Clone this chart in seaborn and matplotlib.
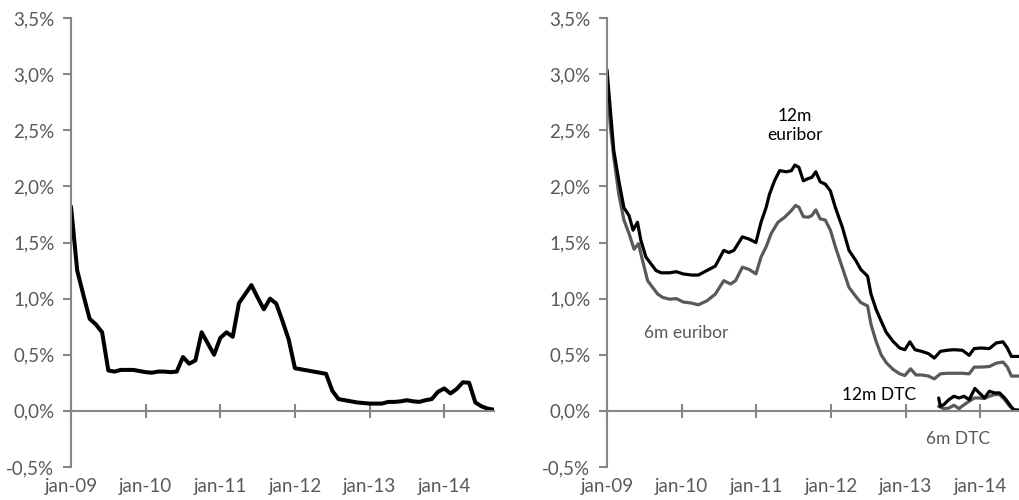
import matplotlib.pyplot as plt
import seaborn as sns

# Left panel: monthly values, month 0 = jan-09
left_months = list(range(69))
left_rate = [1.82, 1.25, 1.03, 0.82, 0.77, 0.70, 0.36, 0.35, 0.365, 0.365,
             0.365, 0.355, 0.345, 0.34, 0.35, 0.35, 0.345, 0.35, 0.48, 0.42,
             0.45, 0.70, 0.60, 0.50, 0.65, 0.70, 0.66, 0.96, 1.04, 1.12,
             1.01, 0.905, 1.00, 0.955, 0.80, 0.635, 0.38, 0.37, 0.36, 0.35,
             0.34, 0.33, 0.18, 0.105, 0.095, 0.085, 0.075, 0.07, 0.065, 0.065,
             0.065, 0.08, 0.08, 0.085, 0.095, 0.085, 0.08, 0.095, 0.105, 0.17,
             0.20, 0.155, 0.195, 0.255, 0.25, 0.075, 0.04, 0.02, 0.01]

# Right panel: months since jan-09 (fractional) and rates in %
e12_months = [0, 0.54, 1.09, 1.90, 2.72, 3.54, 4.19, 4.90, 5.44, 6.26, 7.07, 7.89,
              8.71, 10.07, 11.15, 12.24, 13.6, 14.69, 16.05, 17.41, 18.77, 19.59,
              20.40, 21.76, 22.85, 23.94, 24.76, 25.57, 26.12, 26.93, 27.75, 28.84,
              29.65, 30.2, 30.85, 31.56, 32.37, 32.92, 33.57, 34.28, 35.09, 35.91,
              36.72, 37.81, 38.9, 39.99, 40.8, 41.89, 42.44, 43.25, 44.07, 44.89,
              45.97, 47.06, 47.88, 48.69, 49.51, 50.6, 51.69, 52.61, 53.59, 54.68,
              55.77, 57.13, 58.22, 59.03, 60.12, 61.48, 62.57, 63.66, 64.36, 65.02,
              67.03]
e12_rate = [3.04, 2.68, 2.32, 2.05, 1.81, 1.74, 1.61, 1.68, 1.52, 1.37, 1.31, 1.25,
            1.23, 1.23, 1.24, 1.22, 1.21, 1.21, 1.25, 1.29, 1.43, 1.41,
            1.43, 1.55, 1.53, 1.50, 1.68, 1.81, 1.93, 2.05, 2.14, 2.13,
            2.14, 2.19, 2.17, 2.05, 2.07, 2.08, 2.13, 2.04, 2.02, 1.96,
            1.81, 1.64, 1.43, 1.34, 1.26, 1.20, 1.04, 0.905, 0.80, 0.70,
            0.62, 0.56, 0.545, 0.615, 0.545, 0.53, 0.51, 0.47, 0.53, 0.54,
            0.545, 0.54, 0.495, 0.555, 0.56, 0.555, 0.605, 0.615, 0.56, 0.485,
            0.485]

e6_months = [0, 0.54, 1.09, 1.90, 2.72, 3.54, 4.35, 5.06, 5.71, 6.53, 7.34, 8.16,
             8.98, 10.07, 11.15, 12.24, 13.6, 14.69, 16.05, 17.41, 18.77, 19.86,
             20.67, 21.76, 22.85, 23.94, 24.76, 25.57, 26.39, 27.48, 28.56, 29.65,
             30.30, 30.85, 31.56, 32.37, 32.92, 33.57, 34.28, 35.09, 35.91, 36.72,
             37.81, 38.9, 39.99, 40.8, 41.89, 42.44, 43.25, 44.07, 44.89, 45.97,
             47.06, 47.88, 48.80, 49.67, 50.6, 51.69, 52.61, 53.59, 54.68, 55.77,
             57.13, 58.22, 59.03, 60.12, 61.48, 62.57, 63.66, 64.36, 65.02, 67.03]
e6_rate = [2.98, 2.53, 2.26, 1.93, 1.70, 1.58, 1.44, 1.49, 1.34, 1.16, 1.10, 1.04,
           1.01, 0.995, 1.00, 0.97, 0.96, 0.945, 0.98, 1.04, 1.16, 1.13,
           1.16, 1.28, 1.26, 1.22, 1.37, 1.46, 1.58, 1.68, 1.725, 1.785,
           1.83, 1.815, 1.73, 1.725, 1.74, 1.79, 1.71, 1.70, 1.61, 1.46,
           1.28, 1.10, 1.02, 0.965, 0.935, 0.77, 0.62, 0.50, 0.43, 0.37,
           0.33, 0.315, 0.375, 0.32, 0.32, 0.31, 0.285, 0.33, 0.335, 0.335,
           0.335, 0.33, 0.39, 0.39, 0.395, 0.425, 0.435, 0.39, 0.31, 0.31]

dtc12_months = [53.32, 53.59, 54.13, 54.95, 55.77, 56.58, 57.4, 58.22, 59.14, 59.85,
                60.66, 61.48, 62.30, 63.11, 63.93, 64.75, 65.29, 67.03]
dtc12_rate = [0.115, 0.04, 0.055, 0.10, 0.13, 0.115, 0.13, 0.10, 0.20, 0.16,
              0.115, 0.175, 0.16, 0.16, 0.115, 0.055, 0.01, 0.0]

dtc6_months = [53.32, 54.13, 54.95, 55.77, 56.58, 57.4, 58.22, 59.03, 59.85, 60.66,
               61.48, 62.30, 63.11, 63.93, 64.75, 65.56, 67.03]
dtc6_rate = [0.04, 0.02, 0.025, 0.05, 0.02, 0.055, 0.085, 0.115, 0.115, 0.11,
             0.13, 0.145, 0.145, 0.10, 0.04, 0.01, 0.0]

tick_months = [0, 12, 24, 36, 48, 60]
tick_labels = ["jan-09", "jan-10", "jan-11", "jan-12", "jan-13", "jan-14"]
y_ticks = [-0.5, 0.0, 0.5, 1.0, 1.5, 2.0, 2.5, 3.0, 3.5]

BLACK = "#000000"
GREY = "#595959"
AXIS = "#868686"
TEXT = "#595959"

sns.set_style("white")
plt.rcParams["font.family"] = ["Lato", "DejaVu Sans"]

fig = plt.figure(figsize=(10.19, 5.0), dpi=100)
ax_l = fig.add_axes([71 / 1019, 33 / 500, 423 / 1019, 449 / 500])
ax_r = fig.add_axes([607 / 1019, 33 / 500, 423 / 1019, 449 / 500])


def style_axis(ax):
    ax.set_xlim(0, 68)
    ax.set_ylim(-0.5, 3.5)
    for s in ["top", "right"]:
        ax.spines[s].set_visible(False)
    ax.spines["left"].set_color(AXIS)
    ax.spines["left"].set_linewidth(1.5)
    ax.spines["bottom"].set_position(("data", 0))
    ax.spines["bottom"].set_color(AXIS)
    ax.spines["bottom"].set_linewidth(1.5)
    ax.set_yticks(y_ticks)
    ax.set_yticklabels([f"{v:.1f}%".replace(".", ",") for v in y_ticks])
    ax.tick_params(axis="y", left=True, direction="out", length=6, width=1.5,
                   color=AXIS, labelcolor=TEXT, labelsize=13.5, pad=6)
    ax.set_xticks(tick_months)
    ax.tick_params(axis="x", bottom=True, direction="inout", length=10, width=1.5,
                   color=AXIS, labelbottom=False)
    # month labels sit under the plot, below -0,5%
    sec = ax.secondary_xaxis("bottom")
    sec.set_xticks(tick_months)
    sec.set_xticklabels(tick_labels)
    sec.tick_params(length=0, labelcolor=TEXT, labelsize=13.5, pad=8)
    sec.spines["bottom"].set_visible(False)
    ax.set_xlabel("")
    ax.set_ylabel("")


sns.lineplot(x=left_months, y=left_rate, ax=ax_l, color=BLACK, linewidth=2.9)

sns.lineplot(x=e6_months, y=e6_rate, ax=ax_r, color=GREY, linewidth=2.3)
sns.lineplot(x=e12_months, y=e12_rate, ax=ax_r, color=BLACK, linewidth=2.3)
sns.lineplot(x=dtc6_months, y=dtc6_rate, ax=ax_r, color=GREY, linewidth=2.3)
sns.lineplot(x=dtc12_months, y=dtc12_rate, ax=ax_r, color=BLACK, linewidth=2.3)

for ax in (ax_l, ax_r):
    style_axis(ax)

ax_r.text(30.2, 2.54, "12m\neuribor", color=BLACK, fontsize=12.5, ha="center",
          va="center", linespacing=1.25)
ax_r.text(12.7, 0.69, "6m euribor", color=GREY, fontsize=12.5, ha="center", va="center")
ax_r.text(43.7, 0.14, "12m DTC", color=BLACK, fontsize=12.5, ha="center", va="center")
ax_r.text(56.4, -0.25, "6m DTC", color=GREY, fontsize=12.5, ha="center", va="center")

fig.savefig("out.png", dpi=100)
plt.close(fig)
